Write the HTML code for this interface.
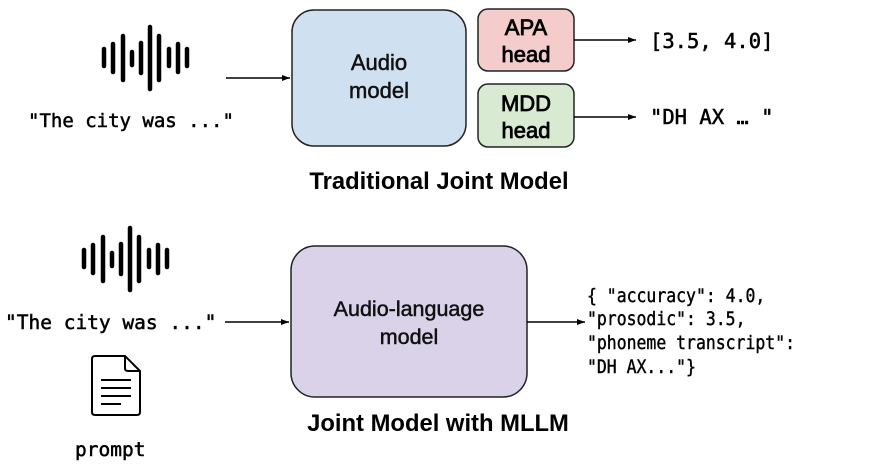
<!DOCTYPE html>
<html><head><meta charset="utf-8"><style>
html,body{margin:0;padding:0;background:#fff;}
svg{display:block;}
.m{font-family:"DejaVu Sans Mono","Liberation Mono",monospace;fill:#000;stroke:#000;stroke-width:0.5;}
.s{font-family:"Liberation Sans",Arial,sans-serif;fill:#111;stroke:#111;stroke-width:0.5;}
.h{font-family:"Liberation Sans",Arial,sans-serif;fill:#000;stroke:#000;stroke-width:0.8;}
.b{font-family:"Liberation Sans",Arial,sans-serif;fill:#000;font-weight:bold;}
</style></head><body>
<svg width="896" height="469" viewBox="0 0 896 469" xmlns="http://www.w3.org/2000/svg">
<defs>
<marker id="a" markerWidth="8" markerHeight="6" refX="8" refY="3" orient="auto" markerUnits="userSpaceOnUse"><path d="M0,0 L8,3 L0,6 z" fill="#000"/></marker>
<g id="wave" stroke="#000" stroke-width="4.5" stroke-linecap="round">
<line x1="84" y1="250" x2="84" y2="267"/>
<line x1="93" y1="245" x2="93" y2="273"/>
<line x1="103" y1="237" x2="103" y2="281"/>
<line x1="112" y1="253" x2="112" y2="266"/>
<line x1="121" y1="244" x2="121" y2="274"/>
<line x1="130" y1="228" x2="130" y2="290"/>
<line x1="139" y1="237" x2="139" y2="281"/>
<line x1="149" y1="250" x2="149" y2="267"/>
<line x1="158" y1="245" x2="158" y2="273"/>
<line x1="167" y1="250" x2="167" y2="267"/>
</g>
</defs>
<!-- top -->
<use href="#wave" transform="translate(20,-201)"/>
<text class="m" x="28" y="127" font-size="19">"The city was ..."</text>
<line x1="226" y1="78" x2="290" y2="78" stroke="#000" stroke-width="1.5" marker-end="url(#a)"/>
<rect x="292" y="10" width="174" height="136" rx="22" fill="#cfe0f1" stroke="#222" stroke-width="1.5"/>
<text class="s" x="379" y="70" font-size="22" text-anchor="middle">Audio</text>
<text class="s" x="379" y="98" font-size="22" text-anchor="middle">model</text>
<rect x="478" y="9" width="96" height="62" rx="10" fill="#f4cccc" stroke="#222" stroke-width="1.5"/>
<text class="h" x="526" y="35" font-size="22" text-anchor="middle">APA</text>
<text class="h" x="526" y="62" font-size="22" text-anchor="middle">head</text>
<rect x="478" y="84" width="96" height="63" rx="10" fill="#d9ead3" stroke="#222" stroke-width="1.5"/>
<text class="h" x="526" y="111" font-size="22" text-anchor="middle">MDD</text>
<text class="h" x="526" y="138" font-size="22" text-anchor="middle">head</text>
<line x1="574" y1="40" x2="636" y2="40" stroke="#000" stroke-width="1.5" marker-end="url(#a)"/>
<line x1="574" y1="117" x2="636" y2="117" stroke="#000" stroke-width="1.5" marker-end="url(#a)"/>
<text class="m" x="650" y="48" font-size="20.5">[3.5, 4.0]</text>
<text class="m" x="650" y="124" font-size="20.5">"DH AX … "</text>
<text class="b" x="439" y="189" font-size="23.8" text-anchor="middle">Traditional Joint Model</text>
<!-- bottom -->
<use href="#wave"/>
<text class="m" x="5" y="329" font-size="19.5">"The city was ..."</text>
<line x1="225" y1="322" x2="289" y2="322" stroke="#000" stroke-width="1.5" marker-end="url(#a)"/>
<rect x="291" y="246" width="236" height="151" rx="24" fill="#d9d2e9" stroke="#222" stroke-width="1.5"/>
<text class="s" x="409" y="316" font-size="21.5" text-anchor="middle">Audio-language</text>
<text class="s" x="409" y="344" font-size="21.5" text-anchor="middle">model</text>
<line x1="527" y1="322" x2="585" y2="322" stroke="#000" stroke-width="1.5" marker-end="url(#a)"/>
<g transform="translate(587,0) scale(0.9,1)">
<text class="m" font-size="18.3" style="stroke-width:0.4"><tspan x="0" y="302">{ "accuracy": 4.0,</tspan><tspan x="0" y="325">"prosodic": 3.5,</tspan><tspan x="0" y="349">"phoneme transcript":</tspan><tspan x="0" y="373">"DH AX..."}</tspan></text>
</g>
<text class="b" x="438" y="431" font-size="23.8" text-anchor="middle">Joint Model with MLLM</text>
<!-- doc icon -->
<path d="M95,356 L125,356 L140,371 L140,412 Q140,415 137,415 L95,415 Q92,415 92,412 L92,359 Q92,356 95,356 Z M125,356 L125,368 Q125,371 128,371 L140,371" fill="none" stroke="#000" stroke-width="2" stroke-linejoin="round"/>
<g stroke="#000" stroke-width="2"><line x1="101" y1="380" x2="131" y2="380"/><line x1="101" y1="388" x2="131" y2="388"/><line x1="101" y1="396" x2="131" y2="396"/><line x1="101" y1="404" x2="121" y2="404"/></g>
<text class="m" x="75" y="456" font-size="19.5">prompt</text>
</svg>
</body></html>
